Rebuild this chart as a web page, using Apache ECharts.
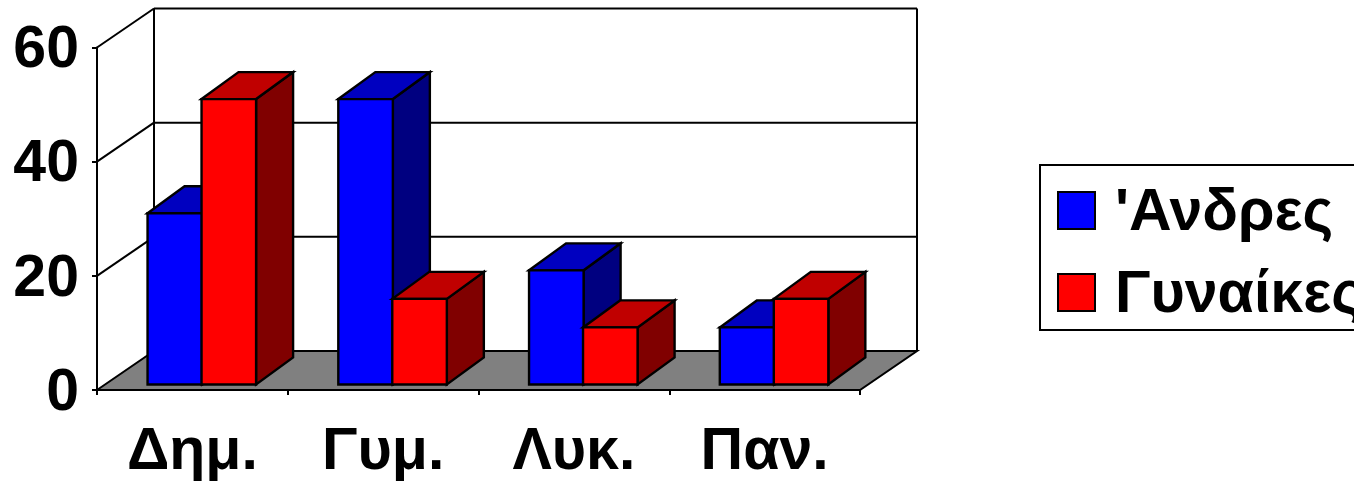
<!DOCTYPE html>
<html><head><meta charset="utf-8">
<style>html,body{margin:0;padding:0;background:#fff;overflow:hidden}#c{width:1354px;height:482px}</style>
<script src="https://cdn.jsdelivr.net/npm/echarts@6/dist/echarts.min.js"></script>
</head><body><div id="c"></div>
<script>
const categories = ['Δημ.', 'Γυμ.', 'Λυκ.', 'Παν.'];
const men = [30, 50, 20, 10];
const women = [50, 15, 10, 15];
const gridValues = [0, 20, 40, 60];
const seriesNames = ["'Ανδρες", 'Γυναίκες'];

const FONT = '"Liberation Sans", Arial, sans-serif';
const WALL_DX = 57, WALL_DY = -39, BAR_DX = 37, BAR_DY = -27, LIFT = 5.5, EDGE = 2.4;

function poly(points, fill, width) {
  return { type: 'polygon', shape: { points }, style: { fill, stroke: '#000', lineWidth: width || EDGE, lineJoin: 'miter' } };
}
function seg(a, b, width) {
  return { type: 'line', shape: { x1: a[0], y1: a[1], x2: b[0], y2: b[1] }, style: { stroke: '#000', lineWidth: width || 2, fill: null } };
}
function wallItem(params, api) {
  const cs = params.coordSys;
  const v = api.value(1);
  const y = api.coord([0, v])[1];
  const xl = cs.x, xr = cs.x + cs.width;
  const kids = [];
  if (v === 0) {
    kids.push({ type: 'polygon', shape: { points: [[xl, y], [xl + WALL_DX, y + WALL_DY], [xr + WALL_DX, y + WALL_DY], [xr, y]] }, style: { fill: '#808080', stroke: '#000', lineWidth: 2 } });
    kids.push(seg([xl + WALL_DX, cs.y + WALL_DY], [xl + WALL_DX, y + WALL_DY]));
    kids.push(seg([xr + WALL_DX, cs.y + WALL_DY], [xr + WALL_DX, y + WALL_DY]));
  } else {
    kids.push(seg([xl, y], [xl + WALL_DX, y + WALL_DY]));
    kids.push(seg([xl + WALL_DX, y + WALL_DY], [xr + WALL_DX, y + WALL_DY]));
  }
  return { type: 'group', children: kids };
}
function barItem(offsetFrac, front, top, side) {
  return function (params, api) {
    const c = api.coord([api.value(0), 0]);
    const band = api.size([1, 0])[0];
    const w = band * 0.286;
    const x0 = c[0] + band * offsetFrac, x1 = x0 + w;
    const yb = c[1] - LIFT;
    const yt = api.coord([api.value(0), api.value(1)])[1] - LIFT;
    return { type: 'group', children: [
      poly([[x1, yt], [x1 + BAR_DX, yt + BAR_DY], [x1 + BAR_DX, yb + BAR_DY], [x1, yb]], side),
      poly([[x0, yt], [x0 + BAR_DX, yt + BAR_DY], [x1 + BAR_DX, yt + BAR_DY], [x1, yt]], top),
      poly([[x0, yt], [x1, yt], [x1, yb], [x0, yb]], front)
    ] };
  };
}

const labelFont = { fontFamily: FONT, fontWeight: 'bold', fontSize: 59, color: '#000' };
const chart = echarts.init(document.getElementById('c'), null, { renderer: 'canvas' });
chart.setOption({
  animation: false,
  backgroundColor: '#fff',
  grid: { left: 97, right: 494, top: 47.5, bottom: 90 },
  legend: {
    left: 1040, top: 165, orient: 'vertical', data: seriesNames,
    padding: [19, 40, 5, 17], itemGap: 23, itemWidth: 37, itemHeight: 37,
    backgroundColor: '#fff', borderColor: '#000', borderWidth: 2,
    icon: 'rect',
    formatter: n => '{t|' + n + '}',
    textStyle: Object.assign({}, labelFont, { padding: [0, 0, 0, 15], rich: { t: Object.assign({}, labelFont, { padding: [6, 0, 0, 0] }) } })
  },
  xAxis: {
    type: 'category', data: categories, z: 5,
    axisLine: { lineStyle: { color: '#000', width: 2 } },
    axisTick: { show: true, alignWithLabel: false, length: 5, lineStyle: { color: '#000', width: 2 } },
    axisLabel: Object.assign({}, labelFont, { margin: 33 }),
    splitLine: { show: false }
  },
  yAxis: {
    type: 'value', min: 0, max: 60, interval: 20, z: 5,
    axisLine: { show: true, lineStyle: { color: '#000', width: 2 } },
    axisTick: { show: true, length: 5, lineStyle: { color: '#000', width: 2 } },
    axisLabel: Object.assign({}, labelFont, { margin: 18,
      formatter: v => '{t|' + v + '}',
      rich: { t: Object.assign({}, labelFont, { padding: [7, 0, 0, 0] }) } }),
    splitLine: { show: false }
  },
  series: [
    { type: 'custom', name: 'walls', silent: true, z: 1, renderItem: wallItem,
      data: gridValues.map(v => [0, v]), encode: { x: 0, y: 1 } },
    { type: 'custom', name: seriesNames[0], z: 2, itemStyle: { color: '#0000ff', borderColor: '#000', borderWidth: 2 },
      renderItem: barItem(-0.235, '#0000ff', '#0000c0', '#000080'),
      data: men.map((v, i) => [i, v]), encode: { x: 0, y: 1 } },
    { type: 'custom', name: seriesNames[1], z: 3, itemStyle: { color: '#ff0000', borderColor: '#000', borderWidth: 2 },
      renderItem: barItem(0.048, '#ff0000', '#c00000', '#800000'),
      data: women.map((v, i) => [i, v]), encode: { x: 0, y: 1 } }
  ]
});
</script></body></html>
